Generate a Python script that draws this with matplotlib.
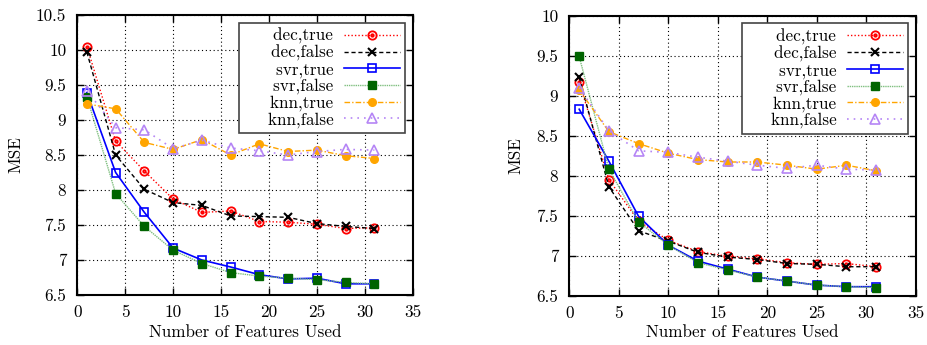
import matplotlib
matplotlib.use("Agg")
import matplotlib.pyplot as plt
import numpy as np
from matplotlib.path import Path

plt.rcParams['font.family'] = ['cmr10', 'DejaVu Serif']
plt.rcParams['axes.formatter.use_mathtext'] = True
plt.rcParams['mathtext.fontset'] = 'cm'

features = [1, 4, 7, 10, 13, 16, 19, 22, 25, 28, 31]
labels = ["dec,true", "dec,false", "svr,true", "svr,false", "knn,true", "knn,false"]

left_dec_true = [10.05, 8.70, 8.27, 7.87, 7.68, 7.70, 7.55, 7.54, 7.51, 7.45, 7.46]
left_dec_false = [9.97, 8.50, 8.01, 7.82, 7.78, 7.63, 7.62, 7.61, 7.52, 7.48, 7.45]
left_svr_true = [9.39, 8.25, 7.68, 7.17, 7.00, 6.90, 6.79, 6.73, 6.74, 6.66, 6.66]
left_svr_false = [9.33, 7.95, 7.48, 7.14, 6.95, 6.82, 6.77, 6.74, 6.72, 6.68, 6.66]
left_knn_true = [9.23, 9.16, 8.68, 8.58, 8.72, 8.50, 8.66, 8.55, 8.57, 8.49, 8.45]
left_knn_false = [9.42, 8.89, 8.86, 8.59, 8.71, 8.60, 8.56, 8.50, 8.55, 8.58, 8.57]

right_dec_true = [9.17, 7.95, 7.43, 7.19, 7.05, 6.99, 6.96, 6.91, 6.89, 6.90, 6.86]
right_dec_false = [9.23, 7.86, 7.31, 7.18, 7.04, 6.98, 6.95, 6.90, 6.89, 6.86, 6.86]
right_svr_true = [8.83, 8.18, 7.49, 7.13, 6.93, 6.83, 6.73, 6.68, 6.63, 6.61, 6.61]
right_svr_false = [9.49, 8.08, 7.42, 7.13, 6.91, 6.82, 6.73, 6.68, 6.63, 6.61, 6.60]
right_knn_true = [9.07, 8.55, 8.40, 8.28, 8.20, 8.17, 8.17, 8.13, 8.08, 8.13, 8.06]
right_knn_false = [9.10, 8.56, 8.31, 8.29, 8.23, 8.18, 8.13, 8.09, 8.13, 8.08, 8.07]

left_yticks = [6.5, 7, 7.5, 8, 8.5, 9, 9.5, 10, 10.5]
left_yticklabels = ["6.5", "7", "7.5", "8", "8.5", "9", "9.5", "10", "10.5"]
right_yticks = [6.5, 7, 7.5, 8, 8.5, 9, 9.5, 10]
right_yticklabels = ["6.5", "7", "7.5", "8", "8.5", "9", "9.5", "10"]
xticks = [0, 5, 10, 15, 20, 25, 30, 35]

# circled-dot marker
circ = Path.unit_circle()
small = Path(circ.vertices * 0.3, circ.codes)
odot = Path.make_compound_path(circ, small)

styles = [
    dict(color='#ff0000', linestyle=(0, (1, 1.5)), marker=odot, mfc='none', ms=6, mew=1.3, lw=1.0),
    dict(color='#000000', linestyle=(0, (3, 2)), marker='x', ms=6, mew=1.5, lw=1.0),
    dict(color='#0000ff', linestyle='-', marker='s', mfc='none', ms=6, mew=1.2, lw=1.2),
    dict(color='#7fbf7f', linestyle=(0, (1, 0.6)), marker='s', mfc='#006400', mec='#006400', ms=6, lw=1.0),
    dict(color='#ffa500', linestyle=(0, (4, 1.5, 1, 1.5)), marker='o', ms=5.5, lw=1.0),
    dict(color='#b585f5', linestyle=(0, (1, 3)), marker='^', mfc='none', ms=6.5, mew=1.2, lw=1.2),
]

fig = plt.figure(figsize=(9.28, 3.45), dpi=100)
ax1 = fig.add_axes([77.3/928, 50/345, 335.4/928, 280/345])
ax2 = fig.add_axes([569.3/928, 49.5/345, 346.4/928, 279.8/345])

panels = [
    (ax1, [left_dec_true, left_dec_false, left_svr_true, left_svr_false, left_knn_true, left_knn_false],
     (6.5, 10.5), left_yticks, left_yticklabels),
    (ax2, [right_dec_true, right_dec_false, right_svr_true, right_svr_false, right_knn_true, right_knn_false],
     (6.5, 10.0), right_yticks, right_yticklabels),
]

fs = 12.3
for ax, series, ylim, yt, ytl in panels:
    for lab, vals, st in zip(labels, series, styles):
        ax.plot(features, vals, label="    " + lab, **st)
    ax.set_xlim(0, 35)
    ax.set_ylim(*ylim)
    ax.set_xticks(xticks)
    ax.set_xticklabels([str(t) for t in xticks], fontsize=fs)
    ax.set_yticks(yt)
    ax.set_yticklabels(ytl, fontsize=fs)
    ax.grid(True, color='black', linestyle=(0, (1, 2.5)), linewidth=0.8)
    ax.tick_params(axis='x', direction='in', top=True, length=5, width=1, pad=7)
    ax.tick_params(axis='y', direction='in', right=True, length=5, width=1, pad=8)
    for sp in ax.spines.values():
        sp.set_linewidth(1.5)
    ax.set_xlabel("Number of Features Used", fontsize=fs, labelpad=3)
    ax.set_ylabel("MSE", fontsize=fs, labelpad=9)
    leg = ax.legend(loc='upper right', markerfirst=False, fontsize=fs, handlelength=3.3,
                    handletextpad=0.6, labelspacing=0.05, borderpad=0.3, borderaxespad=0.45,
                    fancybox=False, framealpha=1, edgecolor='#444444')
    leg.get_frame().set_linewidth(1.2)

fig.savefig("out.png", dpi=100)
